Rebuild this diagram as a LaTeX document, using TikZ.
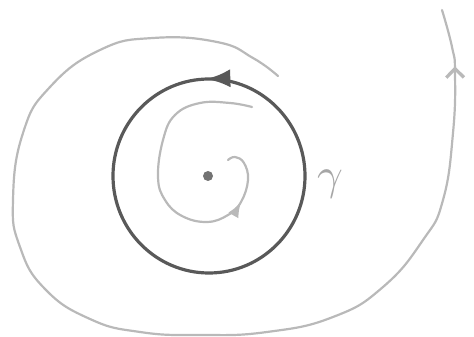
\documentclass[tikz,border=0pt]{standalone}
\usepackage{tikz}
\usetikzlibrary{arrows.meta, decorations.markings}

\begin{document}
\begin{tikzpicture}[x=1pt, y=1pt, >=Latex,
    pencil/.style={draw=gray!55, line width=2.2pt, line cap=round},
    orbit/.style={draw=black!65, line width=3.2pt},
    tip at/.style 2 args={postaction={decorate, decoration={markings,
        mark=at position #1 with {\arrow[scale=#2]{Latex}}}}},
    vee at/.style={postaction={decorate, decoration={markings,
        mark=at position #1 with {\arrow[scale=1.5]{Straight Barb}}}}}]
    \useasboundingbox (0,0) rectangle (474,337);

    % centre point and the closed orbit gamma
    \node [circle, fill=black!55, inner sep=0pt, minimum size=10pt] (p) at (208,161) {};
    \draw [orbit, tip at={0.255}{1.4}] (209,161) ellipse [x radius=96, y radius=97];
    \node [text=gray!70] (g) at (330,153) {\scalebox{4.5}{$\gamma$}};

    % inner spiral, winding in towards the point
    \draw [pencil, tip at={-60pt}{1.2}] plot [smooth, tension=0.7] coordinates {
        (252,230) (230,234) (200,234) (175,222) (163,197) (158,160)
        (165,137) (182,121) (207,115) (228,122) (241,135) (248,157)
        (244,174) (235,180) (228,177)};

    % outer spiral, winding away
    \draw [pencil, vee at=-58pt] plot [smooth, tension=0.8] coordinates {
        (278,261) (253,279) (217,295) (153,299) (100,287) (50,250)
        (23,204) (13,137) (20,90) (45,48) (90,18) (140,5) (200,2)
        (267,5) (333,20) (383,50) (423,97) (443,137) (453,204)
        (455,264) (452,290) (442,327)};
\end{tikzpicture}
\end{document}
